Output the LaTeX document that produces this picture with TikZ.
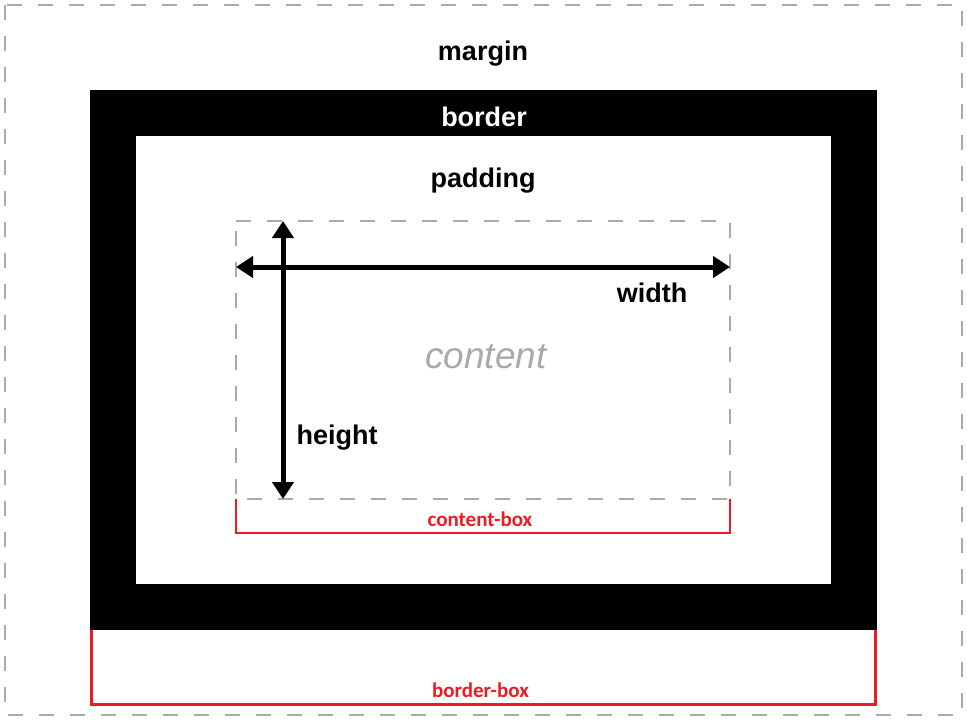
\documentclass[tikz,border=0pt]{standalone}
\usepackage{fontspec}
\setmainfont{Liberation Sans}
\newfontfamily\boxfont{Carlito}
\usetikzlibrary{arrows.meta}
\definecolor{boxred}{RGB}{237,28,36}
\definecolor{dashgray}{RGB}{170,170,170}
\definecolor{contentgray}{RGB}{170,170,170}

\begin{document}
\begin{tikzpicture}[x=1pt,y=-1pt,>={Triangle[length=17pt,width=21pt]},
        boxname/.style={font=\fontsize{27}{32}\selectfont\bfseries, anchor=base},
        redname/.style={font=\boxfont\bfseries\fontsize{21}{25}\selectfont, text=boxred, anchor=base},
        dashline/.style={draw=dashgray, dash pattern=on 15pt off 16pt}]
        \useasboundingbox (0,0) rectangle (967,720);

        % draw the margin
        \draw[dashline, line width=2pt] (5,5) rectangle (962,715);
        \node[boxname] (margin) at (483,60) {margin};

        % draw the border and the padding
        \fill[black] (90,90) rectangle (877,630);
        \fill[white] (136,136) rectangle (831,584);
        \node[boxname, text=white] (border) at (484,126) {border};
        \node[boxname] (padding) at (483,187) {padding};

        % draw the content area
        \draw[dashline, line width=1.5pt]
            (236,221) coordinate (tl)
            -- (730,221) coordinate (tr)
            -- (730,499) coordinate (br)
            -- (236,499) coordinate (bl)
            -- cycle;
        \node[font=\fontsize{37}{44}\selectfont\itshape, text=contentgray, anchor=base]
            (content) at (486,368) {content};

        % draw the width and height arrows
        \coordinate (wl) at (tl |- 0,267);
        \coordinate (wr) at (tr |- 0,267);
        \coordinate (ht) at (283,0 |- tl);
        \coordinate (hb) at (283,0 |- bl);
        \draw[<->, line width=5pt] (wl) -- (wr);
        \draw[<->, line width=5pt] (ht) -- (hb);
        \node[boxname] (width) at (652,302) {width};
        \node[boxname] (height) at (337,444) {height};

        % the two box-sizing brackets
        \draw[boxred, line width=1.3pt]
            (bl) -- (236,533) -- (730,533) node[midway, above=2pt, redname, anchor=south, xshift=-3pt] (contentbox) {content-box}
            -- (br);
        \draw[boxred, line width=3pt]
            (91.5,630) coordinate (bbl)
            -- (91.5,704.5) -- (875.5,704.5) node[midway, redname, anchor=base, yshift=7pt, xshift=-3pt] (borderbox) {border-box}
            -- (875.5,630) coordinate (bbr);
    \end{tikzpicture}
\end{document}
